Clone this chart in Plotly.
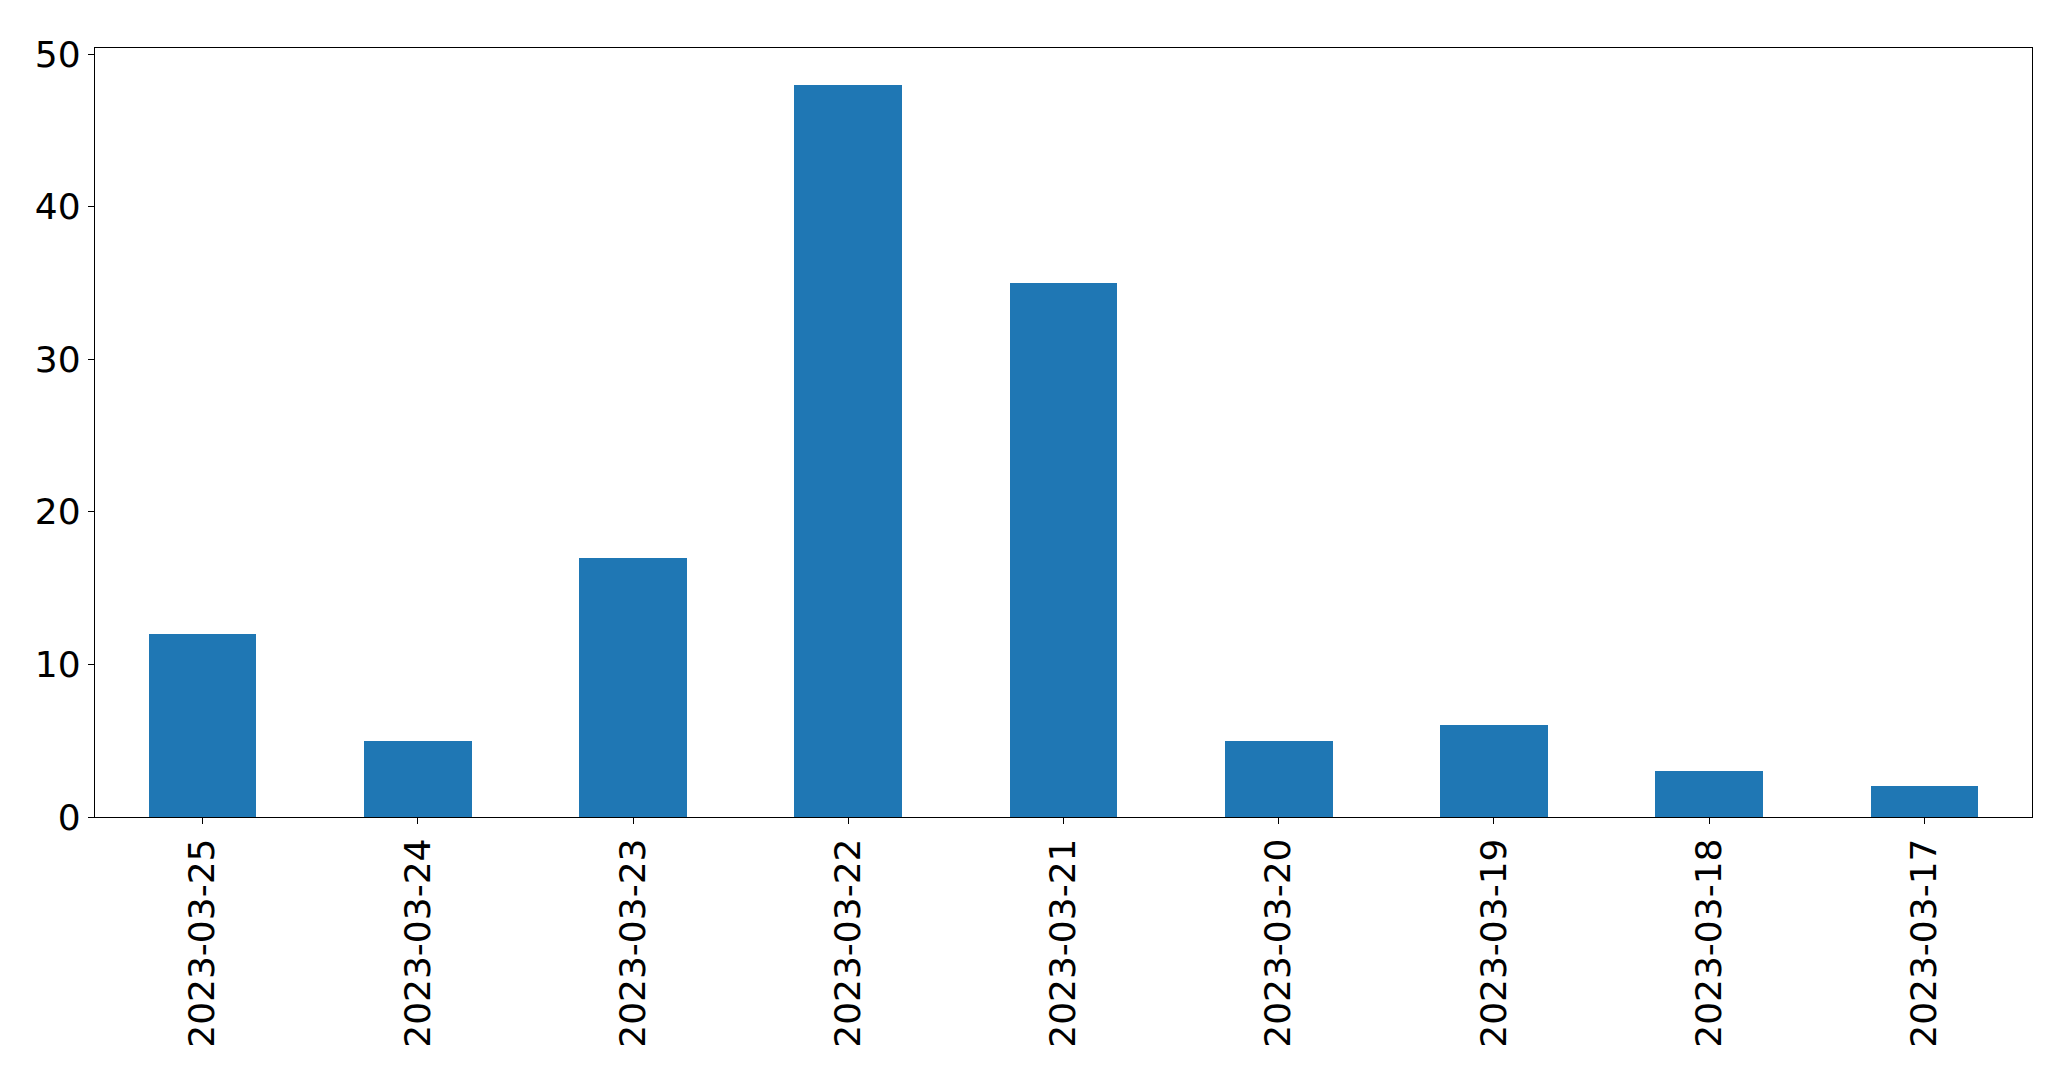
import plotly.graph_objects as go

dates = ["2023-03-25", "2023-03-24", "2023-03-23", "2023-03-22", "2023-03-21",
         "2023-03-20", "2023-03-19", "2023-03-18", "2023-03-17"]
counts = [12, 5, 17, 48, 35, 5, 6, 3, 2]
y_ticks = [0, 10, 20, 30, 40, 50]

fig = go.Figure(go.Bar(x=dates, y=counts, width=0.5, marker=dict(color="#1f77b4", line=dict(width=0))))

fig.update_layout(
    width=2063, height=1061,
    margin=dict(l=86.5, r=39.3, t=39.7, b=252),
    plot_bgcolor="white", paper_bgcolor="white",
    font=dict(family="DejaVu Sans", size=36, color="black"),
    showlegend=False,
    bargap=0,
)
fig.update_xaxes(
    type="category", range=[-0.5, 8.5],
    showline=True, linecolor="black", linewidth=1.3, mirror=True,
    ticks="outside", ticklen=6, tickwidth=1.3, tickcolor="black",
    tickangle=-90, showgrid=False,
)
fig.update_yaxes(
    range=[0, 50.4], tickvals=y_ticks,
    showline=True, linecolor="black", linewidth=1.3, mirror=True,
    ticks="outside", ticklen=6, tickwidth=1.3, tickcolor="black",
    showgrid=False, zeroline=False,
)
fig.write_html("out.html")
